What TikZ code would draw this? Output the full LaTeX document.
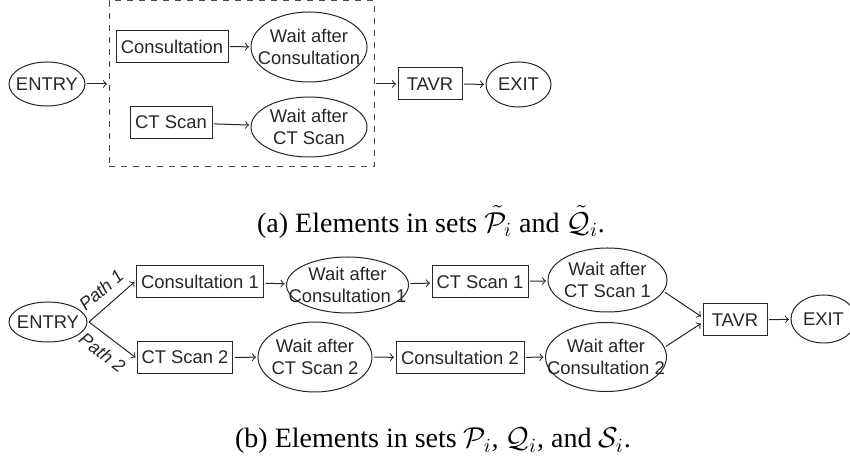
\documentclass[tikz,border=0pt]{standalone}
\usepackage{fontspec}
\usepackage{amsmath}
\setmainfont{Liberation Serif}
\newfontfamily\diagfont{Liberation Sans}
\usetikzlibrary{positioning,shapes,arrows,calc}

\begin{document}
\begin{tikzpicture}[
    x=0.5pt, y=-0.5pt,
    every node/.style={font=\diagfont\fontsize{9.2}{10.6}\selectfont, align=center, text=black!85},
    stepbox/.style={draw=black!85, line width=0.5pt, rectangle, inner xsep=2pt, inner ysep=0pt, minimum height=16pt, outer sep=1pt},
    oval/.style={draw=black!85, line width=0.5pt, ellipse, inner xsep=-12pt, inner ysep=-8pt, outer sep=1pt},
    flow/.style={->, line width=0.5pt, draw=black!85},
    pathlabel/.style={font=\diagfont\itshape\fontsize{9}{10}\selectfont, sloped, inner sep=4.5pt},
    caption/.style={font=\rmfamily\fontsize{14}{17}\selectfont, text=black}
]
\useasboundingbox (0,0) rectangle (850,458);

% (a) aggregated elements
\node[oval, minimum width=38pt, minimum height=22pt] (entA) at (47,84) {ENTRY};
\node[draw=black!70, dashed, line width=0.5pt, minimum width=132.5pt, minimum height=83pt, outer sep=1pt] (group) at (241.5,84) {};
\node[stepbox, minimum width=56pt] (consA) at (172,46.5) {Consultation};
\node[oval, minimum width=58pt, minimum height=35pt] (waitConsA) at (309,47) {Wait after\\Consultation};
\node[stepbox, minimum width=41pt] (ctA) at (171,122.5) {CT Scan};
\node[oval, minimum width=58pt, minimum height=30pt] (waitCtA) at (309,127) {Wait after\\CT Scan};
\node[stepbox, minimum width=32pt] (tavrA) at (430,84) {TAVR};
\node[oval, minimum width=32.5pt, minimum height=22.5pt] (exitA) at (518.5,84.5) {EXIT};

\draw[flow] (entA) -- (group.west);
\draw[flow] (consA) -- (waitConsA);
\draw[flow] (ctA) -- (waitCtA);
\draw[flow] (group.east) -- (tavrA);
\draw[flow] (tavrA) -- (exitA);

\node[caption] (capA) at (431,222) {(a) Elements in sets $\tilde{\mathcal{P}}_i$ and $\tilde{\mathcal{Q}}_i$.};

% (b) elements along each path
\node[oval, minimum width=39pt, minimum height=20pt] (entB) at (48,322) {ENTRY};
\node[stepbox, minimum width=63.5pt] (consB1) at (200,282) {Consultation 1};
\node[oval, minimum width=61pt, minimum height=28pt] (waitConsB1) at (347.5,285) {Wait after\\Consultation 1};
\node[stepbox, minimum width=48pt] (ctB1) at (480,282) {CT Scan 1};
\node[oval, minimum width=59.5pt, minimum height=32pt] (waitCtB1) at (607.5,280) {Wait after\\CT Scan 1};
\node[stepbox, minimum width=47.5pt] (ctB2) at (185,357.5) {CT Scan 2};
\node[oval, minimum width=57pt, minimum height=35pt] (waitCtB2) at (315,357) {Wait after\\CT Scan 2};
\node[stepbox, minimum width=64pt] (consB2) at (460,357.5) {Consultation 2};
\node[oval, minimum width=60.5pt, minimum height=34.5pt] (waitConsB2) at (606,357) {Wait after\\Consultation 2};
\node[stepbox, minimum width=32pt] (tavrB) at (735,320) {TAVR};
\node[oval, minimum width=32.5pt, minimum height=24pt] (exitB) at (823.5,319) {EXIT};

\draw[flow] (entB.east) -- node[pathlabel, above] {Path 1} (consB1.west);
\draw[flow] (entB.east) -- node[pathlabel, below] {Path 2} (ctB2.west);
\draw[flow] (consB1) -- (waitConsB1);
\draw[flow] (waitConsB1) -- (ctB1);
\draw[flow] (ctB1) -- (waitCtB1);
\draw[flow] (ctB2) -- (waitCtB2);
\draw[flow] (waitCtB2) -- (consB2);
\draw[flow] (consB2) -- (waitConsB2);
\draw[flow] (waitCtB1.-12) -- (tavrB.174);
\draw[flow] (waitConsB2.10) -- (tavrB.186);
\draw[flow] (tavrB) -- (exitB);

\node[caption] (capB) at (433,441) {(b) Elements in sets $\mathcal{P}_i$, $\mathcal{Q}_i$, and $\mathcal{S}_i$.};
\end{tikzpicture}
\end{document}
